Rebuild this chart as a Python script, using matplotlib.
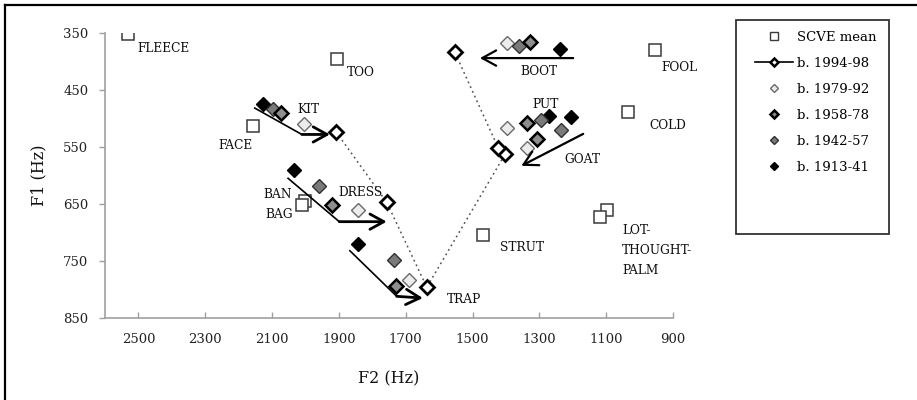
import matplotlib
matplotlib.use("Agg")
import matplotlib.pyplot as plt
from matplotlib.lines import Line2D
from matplotlib.patches import Rectangle

plt.rcParams['font.family'] = ['DejaVu Serif']

# ---------------- data ----------------
# SCVE mean vowel positions (F2, F1) in Hz
scve_words = ["FLEECE", "TOO", "FACE", "BAN", "BAG", "STRUT", "FOOL", "COLD", "LOT", "THOUGHT"]
scve_f2 = [2530, 1905, 2158, 2001, 2011, 1470, 953, 1036, 1097, 1119]
scve_f1 = [352, 396, 513, 645, 651, 704, 379, 489, 661, 672]

# cohort means, vowels in order of the dotted 1994-98 path
vowels = ["KIT", "DRESS", "TRAP", "GOAT", "PUT", "BOOT"]
f2_1994 = [1909, 1757, 1637, 1403, 1423, 1553]
f1_1994 = [523, 647, 796, 563, 552, 384]
f2_1979 = [2004, 1842, 1690, 1337, 1398, 1398]
f1_1979 = [510, 660, 784, 552, 516, 367]
f2_1958 = [2074, 1922, 1730, 1307, 1337, 1329]
f1_1958 = [491, 651, 794, 536, 508, 366]
f2_1942 = [2096, 1959, 1734, 1234, 1294, 1361]
f1_1942 = [483, 618, 748, 521, 503, 372]
f2_1913 = [2126, 2034, 1844, 1204, 1271, 1239]
f1_1913 = [474, 591, 720, 497, 496, 378]

# change arrows (F2, F1) way-points
arrow_kit = [(2154, 481), (2011, 528), (1927, 528)]
arrow_dress = [(2054, 604), (1899, 681), (1757, 681)]
arrow_trap = [(1869, 731), (1727, 812), (1649, 815)]
arrow_boot = [(1199, 394), (1478, 394)]
arrow_goat = [(1169, 527), (1354, 583)]

# word labels and their anchor (F2, F1)
label_text = ["FLEECE", "TOO", "KIT", "FACE", "BAN", "BAG", "DRESS", "TRAP", "STRUT",
              "LOT-\nTHOUGHT-\nPALM", "BOOT", "FOOL", "PUT", "COLD", "GOAT"]
label_f2 = [2504, 1876, 2025, 2262, 2127, 2121, 1903, 1577, 1418, 1053, 1358, 934, 1322, 970, 1224]
label_f1 = [377, 420, 485, 548, 634, 669, 630, 818, 727, 732, 418, 411, 476, 513, 572]

x_ticks = [2500, 2300, 2100, 1900, 1700, 1500, 1300, 1100, 900]
y_ticks = [350, 450, 550, 650, 750, 850]

# ---------------- figure ----------------
fig = plt.figure(figsize=(9.17, 4.0), dpi=100)
ax = fig.add_axes([0.1145, 0.205, 0.6195, 0.7125])

ms_d = 6.8
styles = {
    "1994": dict(marker='D', ms=ms_d, mfc='white', mec='black', mew=2.0),
    "1979": dict(marker='D', ms=ms_d, mfc='#ececec', mec='#6a6a6a', mew=1.0),
    "1958": dict(marker='D', ms=ms_d, mfc='#8e8e8e', mec='black', mew=1.8),
    "1942": dict(marker='D', ms=ms_d, mfc='#7a7a7a', mec='#303030', mew=1.0),
    "1913": dict(marker='D', ms=ms_d, mfc='black', mec='black', mew=1.0),
}

# dotted path through 1994-98
ax.plot(f2_1994, f1_1994, ls=(0, (1.2, 2.2)), color='#555555', lw=1.1, zorder=2)

ax.plot(f2_1979, f1_1979, ls='none', zorder=3, **styles["1979"])
ax.plot(f2_1913, f1_1913, ls='none', zorder=4, **styles["1913"])
ax.plot(f2_1942, f1_1942, ls='none', zorder=5, **styles["1942"])
ax.plot(f2_1958, f1_1958, ls='none', zorder=6, **styles["1958"])
ax.plot(f2_1994, f1_1994, ls='none', zorder=7, **styles["1994"])

ax.plot(scve_f2, scve_f1, ls='none', marker='s', ms=9, mfc='white', mec='#3a3a3a', mew=1.1, zorder=3)

def draw_arrow(pts, lw_shaft, lw_head):
    if len(pts) > 2:
        xs = [p[0] for p in pts[:-1]]
        ys = [p[1] for p in pts[:-1]]
        ax.plot(xs, ys, color='black', lw=lw_shaft, solid_capstyle='butt', zorder=8)
    ax.annotate("", xy=pts[-1], xytext=pts[-2],
                arrowprops=dict(arrowstyle='->, head_length=1.0, head_width=0.55',
                                lw=lw_head, color='black', shrinkA=0, shrinkB=0),
                zorder=8)

draw_arrow(arrow_kit, 1.2, 2.0)
draw_arrow(arrow_dress, 1.2, 2.0)
draw_arrow(arrow_trap, 1.2, 2.0)
draw_arrow(arrow_boot, 1.3, 1.6)
draw_arrow(arrow_goat, 1.3, 1.6)

for t, x, y in zip(label_text, label_f2, label_f1):
    ax.text(x, y, t, ha='left', va='center', fontsize=8.8, color='#111111',
            linespacing=1.7, zorder=9)

ax.set_xlim(2600, 900)
ax.set_ylim(850, 350)
ax.set_xticks(x_ticks)
ax.set_yticks(y_ticks)
ax.set_xticklabels([str(v) for v in x_ticks])
ax.set_yticklabels([str(v) for v in y_ticks])
ax.tick_params(axis='x', direction='in', length=4, width=1, color='#a0a0a0',
               labelsize=9.5, labelcolor='#222222', pad=11)
ax.tick_params(axis='y', direction='out', length=4, width=1, color='#a0a0a0',
               labelsize=9.5, labelcolor='#222222', pad=8)
for s in ['top', 'right']:
    ax.spines[s].set_visible(False)
for s in ['left', 'bottom']:
    ax.spines[s].set_color('#a0a0a0')
    ax.spines[s].set_linewidth(1.2)

ax.set_xlabel("F2 (Hz)", fontsize=11.5, color='#111111', labelpad=17)
ax.set_ylabel("F1 (Hz)", fontsize=11.5, color='#111111', labelpad=11)

# legend
ms_l = 4.5
handles = [
    Line2D([], [], ls='none', marker='s', ms=6, mfc='white', mec='#3a3a3a', mew=1.0),
    Line2D([], [], color='black', lw=1.2, marker='D', ms=ms_l, mfc='white', mec='black', mew=1.8),
    Line2D([], [], ls='none', marker='D', ms=ms_l, mfc='#ececec', mec='#6a6a6a', mew=1.0),
    Line2D([], [], ls='none', marker='D', ms=ms_l, mfc='#8e8e8e', mec='black', mew=1.8),
    Line2D([], [], ls='none', marker='D', ms=ms_l, mfc='#7a7a7a', mec='#303030', mew=1.0),
    Line2D([], [], ls='none', marker='D', ms=ms_l, mfc='black', mec='black', mew=1.0),
]
labels = ["SCVE mean", "b. 1994-98", "b. 1979-92", "b. 1958-78", "b. 1942-57", "b. 1913-41"]
fig.legend(handles, labels, loc='upper left', bbox_to_anchor=(0.8233, 0.9225),
           frameon=False, fontsize=9.5, handlelength=2.9, handletextpad=0.3,
           labelspacing=0.98, borderpad=0, borderaxespad=0)
fig.patches.append(Rectangle((0.8026, 0.415), 0.1668, 0.535, transform=fig.transFigure,
                             fill=False, edgecolor='#333333', lw=1.3))

# outer frame (top and left edges)
fig.lines.append(Line2D([0.0055, 1.0], [0.9875, 0.9875], transform=fig.transFigure,
                        color='black', lw=1.6))
fig.lines.append(Line2D([0.0055, 0.0055], [0.0, 0.9875], transform=fig.transFigure,
                        color='black', lw=1.6))

fig.savefig("out.png", dpi=100, facecolor='white')
